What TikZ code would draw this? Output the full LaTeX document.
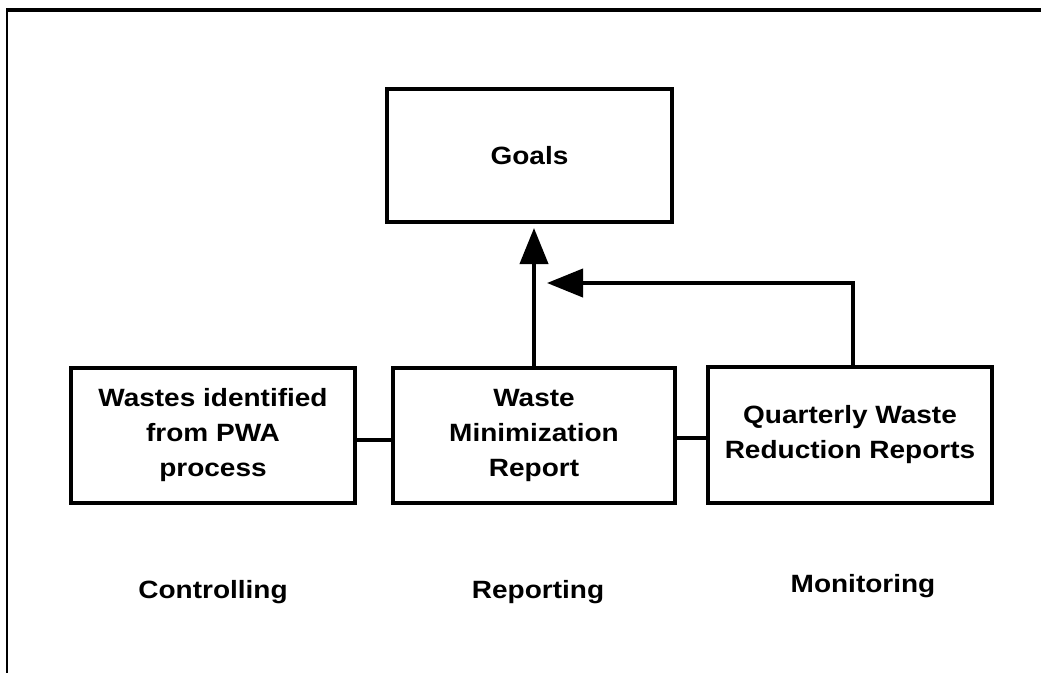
\documentclass[tikz,border=0pt]{standalone}
\usepackage{fontspec}
\setmainfont{Liberation Sans}[FakeStretch=1.12]
\usetikzlibrary{arrows.meta,calc}
\begin{document}
\begin{tikzpicture}[x=1pt,y=-1pt,
  box/.style={draw, line width=4pt, inner sep=0pt, outer sep=0pt, align=center,
    font=\fontsize{25}{35}\selectfont\bfseries},
  lbl/.style={font=\fontsize{25}{35}\selectfont\bfseries, inner sep=0pt},
  link/.style={line width=4pt},
  arr/.style={line width=4pt, -{Triangle[length=36pt,width=28pt]}}]
\useasboundingbox (0,0) rectangle (1041,673);
% page frame (top and left edges)
\draw[line width=3.5pt] (6,10) -- (1041,10);
\draw[line width=2pt] (7,10) -- (7,673);
% boxes
\node[box, minimum width=285pt, minimum height=133pt] (goals) at (529.5,155.5) {Goals};
\node[box, minimum width=284pt, minimum height=135pt] (wastes) at (213,435.5) {Wastes identified\\from PWA\\process};
\node[box, minimum width=282pt, minimum height=135pt] (wmr) at (534,435.5) {Waste\\Minimization\\Report};
\node[box, minimum width=284pt, minimum height=136pt] (qwr) at (850,435) {Quarterly Waste\\Reduction Reports};
% links between the report boxes
\draw[link] ($(wastes.east)+(0,4.5)$) -- ($(wmr.west)+(0,4.5)$);
\draw[link] ($(wmr.east)+(0,2.5)$) -- ($(qwr.west)+(0,3)$);
% arrows up to the goals
\draw[arr] (wmr.north) -- ($(wmr.north |- goals.south)+(0,6)$);
\draw[arr] ($(qwr.north)+(3,0)$) |- ($(wmr.north)+(13,-85)$);
% column labels
\node[lbl] (ctl) at (213,592) {Controlling};
\node[lbl] (rep) at (538,592) {Reporting};
\node[lbl] (mon) at (863,586) {Monitoring};
\end{tikzpicture}
\end{document}
